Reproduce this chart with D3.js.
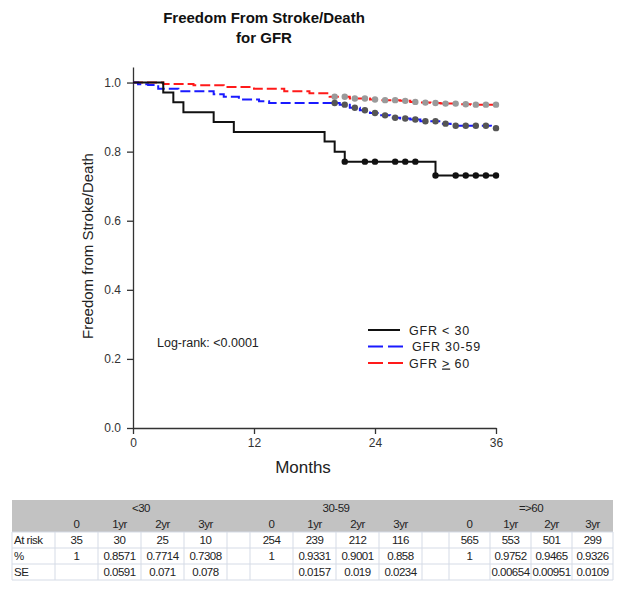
<!DOCTYPE html>
<html>
<head>
<meta charset="utf-8">
<script src="https://cdn.jsdelivr.net/npm/d3@7"></script>
<style>
  body { margin: 0; background: #fff; }
  svg text { font-family: "Liberation Sans", Arial, sans-serif; }
  .tbl text { font-family: "Liberation Sans Narrow", "Arial Narrow", "Liberation Sans", sans-serif; letter-spacing: -0.5px; }
</style>
</head>
<body>
<svg id="chart" width="624" height="591"></svg>
<script>
// Kaplan-Meier steps [month, survival]
const gfrLow = [[0, 1], [3, 0.971], [4, 0.943], [5, 0.914], [8, 0.886], [10, 0.857],
  [19, 0.829], [20, 0.800], [21, 0.771], [30, 0.731]];
const gfrMid = [[0, 1], [0.5, 0.995], [1.5, 0.993], [2.5, 0.982], [4.5, 0.975], [8, 0.966],
  [9, 0.959], [10.5, 0.951], [12.5, 0.946], [13.5, 0.941], [20.5, 0.936], [21.5, 0.927],
  [22.5, 0.920], [23.5, 0.912], [24.5, 0.905], [25.5, 0.898], [26.5, 0.896], [27.5, 0.893],
  [28.5, 0.888], [30.5, 0.881], [31.5, 0.875], [35.5, 0.868]];
const gfrHigh = [[0, 1], [3, 0.996], [6, 0.992], [9, 0.987], [12, 0.982], [15, 0.975],
  [17.5, 0.969], [19.5, 0.959], [21.5, 0.954], [23.5, 0.951], [24.5, 0.949], [26.5, 0.947],
  [27.5, 0.944], [28.5, 0.942], [29.5, 0.941], [30.5, 0.939], [32.5, 0.937], [33.5, 0.936]];

// censored times (months)
const censorLow = [21, 23, 24, 26, 27, 28, 30, 32, 33, 34, 35, 36];
const censorMid = [20, 21, 22, 23, 24, 25, 26, 27, 28, 29, 30, 31, 32, 33, 34, 35, 36];
const censorHigh = [20, 21, 22, 23, 24, 25, 26, 27, 28, 29, 30, 31, 32, 33, 34, 35, 36];

const xTicks = [0, 12, 24, 36];
const yTicks = [0, 0.2, 0.4, 0.6, 0.8, 1.0];
const legendLabels = ["GFR < 30", "GFR 30-59", "GFR > 60"];

// life table under the plot
const groups = ["<30", "30-59", "=>60"];
const colLabels = ["0", "1yr", "2yr", "3yr"];
const rowLabels = ["At risk", "%", "SE"];
const atRisk = [["35", "30", "25", "10"], ["254", "239", "212", "116"], ["565", "553", "501", "299"]];
const pct = [["1", "0.8571", "0.7714", "0.7308"], ["1", "0.9331", "0.9001", "0.858"], ["1", "0.9752", "0.9465", "0.9326"]];
const se = [["", "0.0591", "0.071", "0.078"], ["", "0.0157", "0.019", "0.0234"], ["", "0.00654", "0.00951", "0.0109"]];

const svg = d3.select('#chart');

const x = d3.scaleLinear().domain([0, 36]).range([133, 496]);
const y = d3.scaleLinear().domain([0, 1.045]).range([428, 67]);

// titles
svg.append('text').attr('x', 264).attr('y', 23).attr('text-anchor', 'middle')
  .attr('font-size', 15).attr('font-weight', 'bold').attr('fill', '#111')
  .text('Freedom From Stroke/Death');
svg.append('text').attr('x', 264).attr('y', 43).attr('text-anchor', 'middle')
  .attr('font-size', 15).attr('font-weight', 'bold').attr('fill', '#111')
  .text('for GFR');

// axes
const yAxis = svg.append('g').attr('transform', `translate(${x(0)},0)`)
  .call(d3.axisLeft(y).tickValues(yTicks).tickFormat(d3.format('.1f')).tickSize(6).tickSizeOuter(0).tickPadding(6));
const xAxis = svg.append('g').attr('transform', `translate(0,${y(0)})`)
  .call(d3.axisBottom(x).tickValues(xTicks).tickSize(6).tickSizeOuter(0).tickPadding(4));
[yAxis, xAxis].forEach(a => {
  a.selectAll('path, line').attr('stroke', '#333').attr('stroke-width', 1.3);
  a.selectAll('text').attr('font-size', 12).attr('fill', '#333')
    .attr('font-family', '"Liberation Sans", Arial, sans-serif');
});

svg.append('text').attr('x', 303).attr('y', 473).attr('text-anchor', 'middle')
  .attr('font-size', 17).attr('fill', '#222').text('Months');
svg.append('text').attr('transform', 'translate(93,246) rotate(-90)').attr('text-anchor', 'middle')
  .attr('font-size', 15).attr('fill', '#222').text('Freedom from Stroke/Death');

svg.append('text').attr('x', 157).attr('y', 347).attr('font-size', 12.5).attr('fill', '#222')
  .text('Log-rank: <0.0001');

// curves
const stepLine = d3.line().x(d => x(d[0])).y(d => y(d[1])).curve(d3.curveStepAfter);

function survAt(steps, t) {
  let s = steps[0][1];
  steps.forEach(p => { if (p[0] <= t) s = p[1]; });
  return s;
}

const series = [
  { steps: gfrHigh, censor: censorHigh, color: '#ff1a1a', dash: '10,4', dot: '#9a9a9a' },
  { steps: gfrMid, censor: censorMid, color: '#1a1aff', dash: '10,4', dot: '#555' },
  { steps: gfrLow, censor: censorLow, color: '#111', dash: null, dot: '#111' }
];

series.forEach(s => {
  const pts = s.steps.concat([[36, s.steps[s.steps.length - 1][1]]]);
  svg.append('path').datum(pts)
    .attr('d', stepLine)
    .attr('fill', 'none')
    .attr('stroke', s.color)
    .attr('stroke-width', 2)
    .attr('stroke-dasharray', s.dash);
});

series.forEach(s => {
  svg.append('g').selectAll('circle')
    .data(s.censor)
    .join('circle')
    .attr('cx', d => x(d))
    .attr('cy', d => y(survAt(s.steps, d)))
    .attr('r', 3.2)
    .attr('fill', s.dot);
});

// legend
const legend = svg.append('g').attr('transform', 'translate(368,330)');
const legendStyles = [
  { color: '#111', dash: null },
  { color: '#1a1aff', dash: '15,5' },
  { color: '#ff1a1a', dash: '15,5' }
];
legendLabels.forEach((lab, i) => {
  const row = legend.append('g').attr('transform', `translate(0,${i * 16.5})`);
  row.append('line').attr('x1', 0).attr('x2', i === 0 ? 32 : 35).attr('y1', 0).attr('y2', 0)
    .attr('stroke', legendStyles[i].color).attr('stroke-width', 2)
    .attr('stroke-dasharray', legendStyles[i].dash);
  const t = row.append('text').attr('x', i === 1 ? 44 : 41).attr('y', 4.5)
    .attr('font-size', 12.5).attr('letter-spacing', 0.8).attr('fill', '#222');
  if (i === 2) {
    t.append('tspan').text('GFR ');
    t.append('tspan').attr('text-decoration', 'underline').text('>');
    t.append('tspan').text(' 60');
  } else {
    t.text(lab);
  }
});

// table
const tbl = svg.append('g').attr('class', 'tbl');
const tblLeft = 12, tblTop = 500, rowH = 16;
const labelW = 43;
const groupCols = [[43, 43, 43, 43], [43, 43, 43, 43], [41, 41, 41, 41]];
const gapW = [23, 27];

// column edges
const cols = [];
let cx = tblLeft + labelW;
groupCols.forEach((ws, g) => {
  ws.forEach(w => { cols.push({ g, x0: cx, x1: cx + w }); cx += w; });
  if (g < 2) { cols.push({ g: -1, x0: cx, x1: cx + gapW[g] }); cx += gapW[g]; }
});
const tblRight = cx;

tbl.append('rect').attr('x', tblLeft).attr('y', tblTop).attr('width', tblRight - tblLeft).attr('height', rowH * 2)
  .attr('fill', '#c2c2c2');

// grid for data rows
for (let r = 0; r <= 3; r++) {
  tbl.append('line').attr('x1', tblLeft).attr('x2', tblRight)
    .attr('y1', tblTop + rowH * (2 + r)).attr('y2', tblTop + rowH * (2 + r))
    .attr('stroke', '#d5dbe6').attr('stroke-width', 1);
}
const edges = [tblLeft, tblLeft + labelW].concat(cols.map(c => c.x1));
edges.forEach(e => {
  tbl.append('line').attr('x1', e).attr('x2', e)
    .attr('y1', tblTop + rowH * 2).attr('y2', tblTop + rowH * 5)
    .attr('stroke', '#d5dbe6').attr('stroke-width', 1);
});

const fs = 11.5;
const dataCols = cols.filter(c => c.g >= 0);
groups.forEach((g, gi) => {
  const gc = dataCols.filter(c => c.g === gi);
  tbl.append('text').attr('x', (gc[0].x0 + gc[3].x1) / 2).attr('y', tblTop + 12)
    .attr('text-anchor', 'middle').attr('font-size', fs).attr('fill', '#222').text(g);
  gc.forEach((c, ci) => {
    const mid = (c.x0 + c.x1) / 2;
    tbl.append('text').attr('x', mid).attr('y', tblTop + rowH + 12)
      .attr('text-anchor', 'middle').attr('font-size', fs).attr('fill', '#222').text(colLabels[ci]);
    [atRisk, pct, se].forEach((rows, ri) => {
      tbl.append('text').attr('x', mid).attr('y', tblTop + rowH * (2 + ri) + 12)
        .attr('text-anchor', 'middle').attr('font-size', fs).attr('fill', '#222')
        .text(rows[gi][ci]);
    });
  });
});
rowLabels.forEach((lab, ri) => {
  tbl.append('text').attr('x', tblLeft + 2).attr('y', tblTop + rowH * (2 + ri) + 12)
    .attr('font-size', fs).attr('fill', '#222').text(lab);
});
</script>
</body>
</html>
